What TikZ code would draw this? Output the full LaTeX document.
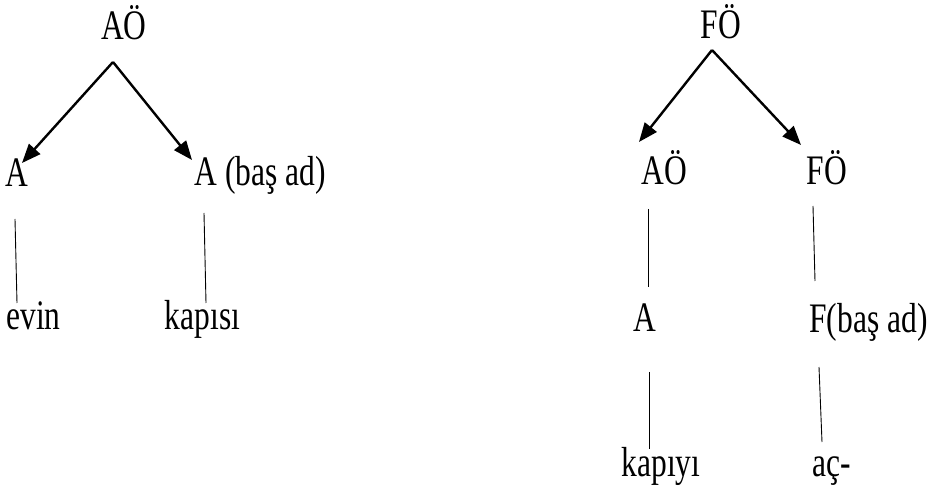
\documentclass[tikz,border=0pt]{standalone}
\usepackage{fontspec}
\setmainfont{Liberation Serif}[FakeStretch=0.75]
\usetikzlibrary{arrows.meta,calc}
\begin{document}
\begin{tikzpicture}[x=1pt,y=1pt,
  lbl/.style={inner sep=0pt,anchor=base,font=\fontsize{42}{50}\selectfont},
  arr/.style={line width=2.4pt,-{Triangle[length=19pt,width=15pt]}},
  stem/.style={line width=0.9pt}]
\useasboundingbox (0,0) rectangle (930,488);

% noun phrase tree
\node[lbl] (ao1)    at (124,448)   {AÖ};
\node[lbl] (la)     at (17,301)    {A};
\node[lbl] (ha)     at (260,302)   {A (baş ad)};
\node[lbl] (evin)   at (33.5,158)  {evin};
\node[lbl] (kapisi) at (202.5,158) {kapısı};

\draw[arr] ($(ao1.base)+(-11,-22)$) -- ($(la.base)+(5,24)$);
\draw[arr] ($(ao1.base)+(-11,-22)$) -- ($(ha.base)+(-68,26)$);
\draw[stem] ($(la.base)+(-2,-32)$) -- ($(evin.base)+(-16.5,27)$);
\draw[stem] ($(ha.base)+(-56,-27)$) -- ($(kapisi.base)+(3.5,27)$);

% verb phrase tree
\node[lbl] (fo1)    at (721,449)   {FÖ};
\node[lbl] (ao2)    at (664.5,303) {AÖ};
\node[lbl] (fo2)    at (827,303)   {FÖ};
\node[lbl] (a2)     at (644.5,156) {A};
\node[lbl] (fbas)   at (868.5,155) {F(baş ad)};
\node[lbl] (kapiyi) at (661,12)    {kapıyı};
\node[lbl] (ac)     at (831.5,12)  {aç-};

\draw[arr] ($(fo1.base)+(-9,-11)$) -- ($(ao2.base)+(-25.5,43)$);
\draw[arr] ($(fo1.base)+(-9,-11)$) -- ($(fo2.base)+(-26,40)$);
\draw[stem] ($(ao2.base)+(-16.5,-24)$) -- ($(a2.base)+(3.5,45)$);
\draw[stem] ($(fo2.base)+(-14,-21)$) -- ($(fbas.base)+(-53.5,52)$);
\draw[stem] ($(a2.base)+(4.5,-40)$) -- ($(kapiyi.base)+(-12,27)$);
\draw[stem] ($(fbas.base)+(-49.5,-34)$) -- ($(ac.base)+(-9.5,34)$);
\end{tikzpicture}
\end{document}
